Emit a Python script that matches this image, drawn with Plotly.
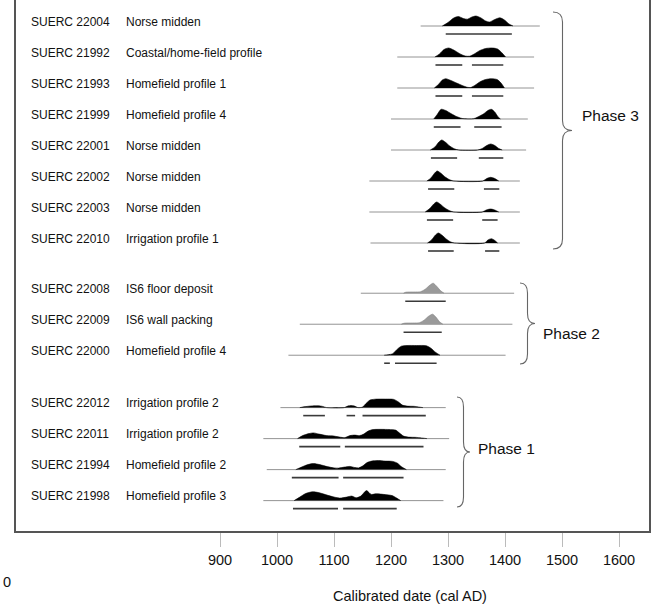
import plotly.graph_objects as go

# ---------------- data ----------------
codes = ["SUERC 22004", "SUERC 21992", "SUERC 21993", "SUERC 21999", "SUERC 22001",
         "SUERC 22002", "SUERC 22003", "SUERC 22010",
         "SUERC 22008", "SUERC 22009", "SUERC 22000",
         "SUERC 22012", "SUERC 22011", "SUERC 21994", "SUERC 21998"]
contexts = ["Norse midden", "Coastal/home-field profile", "Homefield profile 1", "Homefield profile 4",
            "Norse midden", "Norse midden", "Norse midden", "Irrigation profile 1",
            "IS6 floor deposit", "IS6 wall packing", "Homefield profile 4",
            "Irrigation profile 2", "Irrigation profile 2", "Homefield profile 2", "Homefield profile 3"]
phase_of_row = [3, 3, 3, 3, 3, 3, 3, 3, 2, 2, 2, 1, 1, 1, 1]
phase_names = ["Phase 3", "Phase 2", "Phase 1"]

# extent of the thin calibration line (cal AD)
line_start = [1252, 1211, 1211, 1200, 1200, 1162, 1162, 1164, 1147, 1040, 1020, 1006, 976, 982, 976]
line_end = [1461, 1451, 1451, 1440, 1437, 1426, 1426, 1426, 1416, 1413, 1401, 1296, 1302, 1296, 1292]

# highest posterior density ranges (cal AD)
hpd_ranges = [
    [(1296, 1412)],
    [(1278, 1325), (1342, 1397)],
    [(1278, 1325), (1342, 1397)],
    [(1275, 1322), (1346, 1394)],
    [(1270, 1316), (1354, 1397)],
    [(1265, 1311), (1363, 1390)],
    [(1263, 1309), (1360, 1387)],
    [(1265, 1310), (1365, 1390)],
    [(1225, 1296)],
    [(1222, 1289)],
    [(1188, 1198), (1207, 1280)],
    [(1046, 1084), (1122, 1137), (1150, 1261)],
    [(1039, 1111), (1119, 1257)],
    [(1026, 1108), (1116, 1222)],
    [(1028, 1107), (1116, 1210)],
]

# probability distributions: years and relative density (1 = max)
dist_years = [
    [1290, 1300, 1310, 1318, 1327, 1334, 1342, 1349, 1358, 1366, 1373, 1382, 1391, 1399, 1407, 1414],
    [1277, 1285, 1293, 1301, 1310, 1320, 1330, 1338, 1346, 1356, 1366, 1378, 1387, 1394, 1401],
    [1276, 1284, 1290, 1296, 1305, 1315, 1325, 1334, 1340, 1348, 1357, 1366, 1376, 1386, 1393, 1399],
    [1275, 1281, 1288, 1296, 1305, 1315, 1325, 1345, 1352, 1362, 1370, 1376, 1382, 1388, 1392],
    [1269, 1277, 1284, 1289, 1295, 1303, 1311, 1319, 1352, 1360, 1368, 1375, 1382, 1389, 1395],
    [1263, 1270, 1276, 1281, 1287, 1295, 1302, 1310, 1361, 1368, 1375, 1382, 1389],
    [1260, 1268, 1275, 1280, 1286, 1294, 1302, 1310, 1360, 1367, 1375, 1382, 1389],
    [1264, 1271, 1278, 1283, 1289, 1297, 1304, 1311, 1364, 1370, 1376, 1381, 1387],
    [1222, 1226, 1240, 1252, 1260, 1268, 1274, 1280, 1287, 1293],
    [1218, 1223, 1238, 1250, 1258, 1266, 1273, 1279, 1285, 1291],
    [1188, 1195, 1203, 1210, 1218, 1228, 1245, 1262, 1270, 1278, 1286],
    [1040, 1050, 1062, 1072, 1080, 1087, 1118, 1124, 1130, 1136, 1142, 1150, 1156, 1163, 1172, 1190,
     1205, 1212, 1220, 1228, 1242, 1250, 1256],
    [1036, 1045, 1056, 1064, 1074, 1087, 1100, 1110, 1119, 1128, 1136, 1145, 1152, 1160, 1168, 1190,
     1208, 1215, 1222, 1230, 1245, 1256, 1263],
    [1033, 1043, 1054, 1064, 1075, 1088, 1100, 1108, 1118, 1128, 1137, 1143, 1150, 1158, 1166, 1178,
     1190, 1203, 1211, 1218, 1227],
    [1030, 1040, 1050, 1062, 1073, 1085, 1097, 1110, 1122, 1131, 1139, 1147, 1157, 1165, 1174, 1190,
     1202, 1210, 1217],
]
dist_density = [
    [0, 0.35, 0.8, 0.95, 0.75, 0.68, 0.9, 1.0, 0.8, 0.5, 0.4, 0.65, 0.82, 0.6, 0.2, 0],
    [0, 0.3, 0.75, 0.9, 0.7, 0.35, 0.1, 0.08, 0.3, 0.65, 0.85, 0.9, 0.8, 0.45, 0],
    [0, 0.4, 0.8, 0.93, 0.75, 0.5, 0.25, 0.07, 0.05, 0.3, 0.65, 0.85, 0.93, 0.85, 0.5, 0],
    [0, 0.45, 0.97, 0.85, 0.55, 0.25, 0.05, 0.03, 0.2, 0.5, 0.85, 0.97, 0.7, 0.2, 0],
    [0, 0.3, 0.8, 1.0, 0.8, 0.4, 0.12, 0, 0, 0.15, 0.45, 0.6, 0.45, 0.15, 0],
    [0, 0.3, 0.75, 1.0, 0.8, 0.4, 0.15, 0, 0, 0.25, 0.37, 0.25, 0],
    [0, 0.35, 0.8, 1.0, 0.8, 0.42, 0.15, 0, 0, 0.2, 0.3, 0.2, 0],
    [0, 0.3, 0.8, 1.0, 0.8, 0.4, 0.12, 0, 0, 0.3, 0.43, 0.3, 0],
    [0, 0.1, 0.12, 0.15, 0.4, 0.8, 1.0, 0.7, 0.25, 0],
    [0, 0.1, 0.12, 0.15, 0.4, 0.8, 1.0, 0.7, 0.25, 0],
    [0, 0.05, 0.15, 0.55, 0.9, 0.97, 0.97, 0.95, 0.7, 0.3, 0],
    [0, 0.1, 0.17, 0.18, 0.12, 0, 0, 0.15, 0.2, 0.15, 0, 0.05, 0.4, 0.75, 0.84, 0.85,
     0.82, 0.6, 0.25, 0.15, 0.12, 0.05, 0],
    [0, 0.3, 0.5, 0.57, 0.45, 0.3, 0.25, 0.15, 0.1, 0.3, 0.35, 0.3, 0.45, 0.75, 0.9, 0.92,
     0.85, 0.55, 0.25, 0.15, 0.12, 0.05, 0],
    [0, 0.25, 0.5, 0.6, 0.5, 0.3, 0.17, 0.15, 0.25, 0.32, 0.2, 0.17, 0.35, 0.7, 0.85, 0.9,
     0.85, 0.82, 0.65, 0.3, 0],
    [0, 0.35, 0.7, 0.88, 0.8, 0.6, 0.4, 0.25, 0.35, 0.45, 0.28, 0.45, 1.0, 0.62, 0.68, 0.6,
     0.5, 0.25, 0],
]
grey_rows = ["SUERC 22008", "SUERC 22009"]

x_ticks = [900, 1000, 1100, 1200, 1300, 1400, 1500, 1600]
x_title = "Calibrated date (cal AD)"

# ---------------- layout constants ----------------
W, H = 652, 608
M_L, M_R, M_T, M_B = 16, 3, 0, 77
PLOT_W = W - M_L - M_R
PLOT_H = H - M_T - M_B
ROW_PX = 31.0
FIRST_ROW_PX = 26.0
GROUP_GAPS = {3: 0.0, 2: 0.62, 1: 0.62 + 0.69}
X_RANGE = [542.1, 1652.6]
Y_RANGE = [(PLOT_H - FIRST_ROW_PX) / ROW_PX, -FIRST_ROW_PX / ROW_PX]
PEAK = 10.0 / ROW_PX          # max height of a distribution in row units
BAR_OFF = 8.0 / ROW_PX         # offset of range bars below baseline
LABEL_OFF = 4.5 / ROW_PX
FONT = "Liberation Sans, Arial, Helvetica, sans-serif"


def px_to_paper_x(px):
    return (px - M_L) / PLOT_W


def px_to_paper_y(py):
    return (PLOT_H - py) / PLOT_H


row_pos = [i + GROUP_GAPS[p] for i, p in enumerate(phase_of_row)]

fig = go.Figure()

# thin calibration lines
for i in range(len(codes)):
    fig.add_trace(go.Scatter(x=[line_start[i], line_end[i]], y=[row_pos[i], row_pos[i]],
                             mode="lines", line=dict(color="#949494", width=1),
                             hoverinfo="skip", showlegend=False))

# distributions
for i in range(len(codes)):
    ys = [row_pos[i] - d * PEAK for d in dist_density[i]]
    grey = codes[i] in grey_rows
    fig.add_trace(go.Scatter(x=dist_years[i], y=ys, mode="lines", fill="toself",
                             fillcolor="#9a9a9a" if grey else "#000000",
                             line=dict(color="#7a7a7a" if grey else "#000000", width=0.6,
                                       shape="spline", smoothing=0.7),
                             hoverinfo="skip", showlegend=False))

# range bars
for i in range(len(codes)):
    for (a, b) in hpd_ranges[i]:
        fig.add_trace(go.Scatter(x=[a, b], y=[row_pos[i] + BAR_OFF] * 2, mode="lines",
                                 line=dict(color="#3a3a3a", width=1.6),
                                 hoverinfo="skip", showlegend=False))

annotations = []
for i in range(len(codes)):
    for txt, px in ((codes[i], 29), (contexts[i], 124)):
        annotations.append(dict(x=px_to_paper_x(px), xref="paper", xanchor="left",
                                y=row_pos[i] - LABEL_OFF, yref="y", yanchor="middle",
                                text=txt, showarrow=False,
                                font=dict(family=FONT, size=12, color="#111")))


def px_to_year(px):
    return X_RANGE[0] + (px - M_L) * (X_RANGE[1] - X_RANGE[0]) / PLOT_W


def px_to_row(py):
    return (py - FIRST_ROW_PX) / ROW_PX


braces = [  # left x, tip x, top y, bottom y, label left x, label y  (pixels)
    (553, 572, 12, 249, 580, 115),
    (520, 535, 283, 364, 541, 333),
    (457, 470, 397, 507, 476, 448),
]
shapes = []
for k, (xl, xt, yt, yb, lx, ly) in enumerate(braces):
    x0, x2 = px_to_year(xl), px_to_year(xt)
    xm = (x0 + x2) / 2
    t, b = px_to_row(yt), px_to_row(yb)
    m = (t + b) / 2
    r = 10 / ROW_PX
    path = (f"M {x0},{t} Q {xm},{t} {xm},{t + r} L {xm},{m - r} Q {xm},{m} {x2},{m} "
            f"Q {xm},{m} {xm},{m + r} L {xm},{b - r} Q {xm},{b} {x0},{b}")
    shapes.append(dict(type="path", path=path, xref="x", yref="y",
                       line=dict(color="#666", width=1.1)))
    annotations.append(dict(x=px_to_year(lx), xref="x", xanchor="left",
                            y=px_to_row(ly), yref="y", yanchor="middle",
                            text=phase_names[k], showarrow=False,
                            font=dict(family=FONT, size=15.5, color="#111")))

# axis title, centred under the tick labels as in the source figure
annotations.append(dict(x=px_to_paper_x(410), xref="paper", xanchor="center",
                        y=px_to_paper_y(596), yref="paper", yanchor="middle",
                        text=x_title, showarrow=False,
                        font=dict(family=FONT, size=14.5, color="#111")))

annotations.append(dict(x=0, xref="paper", xanchor="left", xshift=-M_L + 1,
                        y=px_to_paper_y(582), yref="paper", yanchor="middle",
                        text="0", showarrow=False,
                        font=dict(family=FONT, size=14.5, color="#111")))

fig.update_layout(
    width=W, height=H,
    margin=dict(l=M_L, r=M_R, t=M_T, b=M_B, pad=0),
    paper_bgcolor="white", plot_bgcolor="white",
    showlegend=False,
    shapes=shapes,
    annotations=annotations,
    xaxis=dict(range=X_RANGE, tickvals=x_ticks, ticktext=[str(v) for v in x_ticks],
               ticks="outside", ticklen=14, tickcolor="#bbbbbb", tickwidth=1,
               ticklabelstandoff=1,
               showgrid=False, zeroline=False,
               showline=True, linecolor="#555", linewidth=1.5, mirror=False,
               tickfont=dict(family=FONT, size=14.5, color="#111")),
    yaxis=dict(range=Y_RANGE, showticklabels=False, ticks="", showgrid=False, zeroline=False,
               showline=True, linecolor="#555", linewidth=1.5, mirror=True),
)

fig.write_html("out.html")
